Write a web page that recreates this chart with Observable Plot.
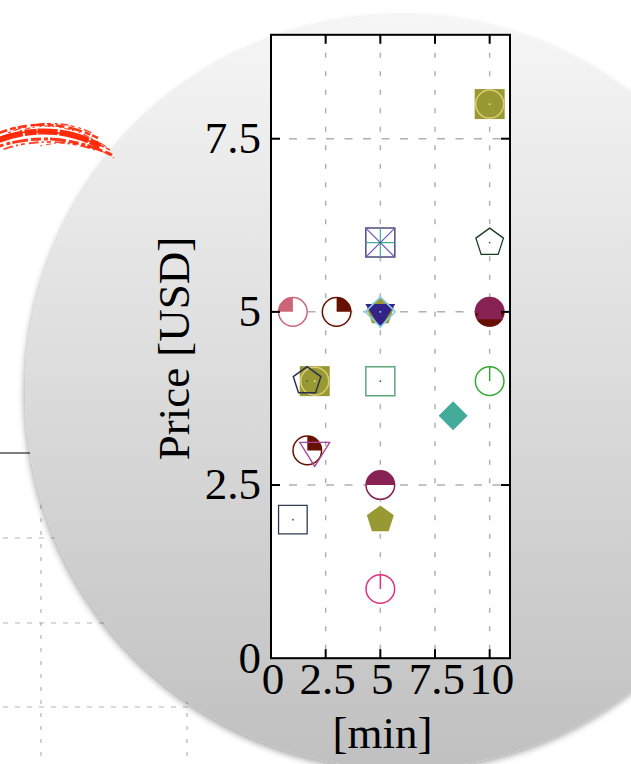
<!DOCTYPE html>
<html>
<head>
<meta charset="utf-8">
<script src="https://cdn.jsdelivr.net/npm/d3@7"></script>
<script src="https://cdn.jsdelivr.net/npm/@observablehq/plot@0.6"></script>
<style>
  html, body { margin: 0; padding: 0; background: #ffffff; }
  #chart { position: relative; width: 631px; height: 764px; overflow: hidden; }
  #chart > svg { position: absolute; left: 0; top: 0; }
</style>
</head>
<body>
<div id="chart"></div>
<script>
// ---- tick values ----
const xTicks = [0, 2.5, 5, 7.5, 10];
const yTicks = [0, 2.5, 5, 7.5];
const xLabel = "[min]";
const yLabel = "Price [USD]";

// ---- marker series (x in minutes, y in USD) ----
const ringSquares    = [{x: 10, y: 8}, {x: 2, y: 4}];     // olive square with a sand ring
const slatePentagons = [{x: 1.65, y: 4}];
const roseQuarters   = [{x: 1, y: 5}];                    // top-left quarter filled
const rustQuarters   = [{x: 3, y: 5}, {x: 1.66, y: 3}];   // top-right quarter filled
const purpleTriangles = [{x: 2, y: 3}];
const olivePentagons = [{x: 5, y: 5}, {x: 5, y: 2}];
const indigoTriangles = [{x: 5, y: 5}];
const cyanDiamonds   = [{x: 5, y: 5}];
const tealDiamonds   = [{x: 8.33, y: 3.5}];
const crossedSquares = [{x: 5, y: 6}];
const pinePentagons  = [{x: 10, y: 6}];
const greenSquares   = [{x: 5, y: 4}];
const slateSquares   = [{x: 1, y: 2}];
const greenStems     = [{x: 10, y: 4}];
const pinkStems      = [{x: 5, y: 1}];
const wineHalves     = [{x: 5, y: 2.5}];
const wineDiscs      = [{x: 10, y: 5}];
const pinDots = [
  {x: 10, y: 8, c: "#eee3a0"}, {x: 2, y: 4, c: "#eee3a0"}, {x: 1.65, y: 4, c: "#117733"},
  {x: 5, y: 4, c: "#117733"}, {x: 1, y: 2, c: "#117733"}, {x: 10, y: 6, c: "#117733"},
  {x: 5, y: 5, c: "#bfe6f5"}, {x: 5, y: 6, c: "#117733"}
];

const W = 631, H = 764;
const serif = "'Liberation Serif', 'Times New Roman', serif";

// ---- backdrop: fragment of a neighbouring chart, shaded disc, brush stroke ----
const bg = d3.select("#chart").append("svg").attr("width", W).attr("height", H);
const defs = bg.append("defs");
const grad = defs.append("linearGradient").attr("id", "disc-fill")
  .attr("x1", 0).attr("y1", 0).attr("x2", 0).attr("y2", 1);
grad.append("stop").attr("offset", 0).attr("stop-color", "#f6f6f6");
grad.append("stop").attr("offset", 1).attr("stop-color", "#c0c0c0");
const shade = defs.append("filter").attr("id", "disc-shadow")
  .attr("x", "-10%").attr("y", "-10%").attr("width", "120%").attr("height", "120%");
shade.append("feDropShadow").attr("dx", -1).attr("dy", 3).attr("stdDeviation", 3)
  .attr("flood-color", "#000").attr("flood-opacity", 0.35);

const back = bg.append("g");
back.append("line").attr("x1", 0).attr("x2", 80).attr("y1", 453).attr("y2", 453)
  .attr("stroke", "#000").attr("stroke-width", 1.2);
[538, 623, 707].forEach(y => back.append("line").attr("x1", 3).attr("x2", 300)
  .attr("y1", y).attr("y2", y).attr("stroke", "#b4b4b4").attr("stroke-width", 1.2)
  .attr("stroke-dasharray", "5,7"));
[41, 187].forEach(x => back.append("line").attr("x1", x).attr("x2", x)
  .attr("y1", 453).attr("y2", H).attr("stroke", "#b4b4b4").attr("stroke-width", 1.2)
  .attr("stroke-dasharray", "4,9"));

bg.append("circle").attr("cx", 402).attr("cy", 392).attr("r", 377)
  .attr("fill", "url(#disc-fill)").attr("filter", "url(#disc-shadow)");

// rough red brush stroke: a solid core plus broken strands
const brush = bg.append("g").attr("fill", "none").attr("stroke", "#ff2200")
  .attr("stroke-linecap", "butt");
[
  {d: "M-6,142 Q50,119 100,146", w: 6, dash: "30,2,12,1,20,2", o: 0.95},
  {d: "M-6,135 Q46,113 98,138", w: 2.5, dash: "14,3,6,2,9,4", o: 0.9},
  {d: "M-6,148 Q52,127 112,155", w: 3, dash: "10,3,4,2,16,3", o: 0.9},
  {d: "M-6,139 Q50,120 110,150", w: 1.6, dash: "5,2,12,3,3,2", o: 0.9},
  {d: "M8,133 Q52,114 92,133", w: 1.3, dash: "3,3,8,2,4,4", o: 0.85},
  {d: "M-4,152 Q44,133 96,150", w: 1.8, dash: "4,4,10,3,2,3", o: 0.85},
  {d: "M20,131 Q60,116 108,148", w: 1.2, dash: "2,3,6,2,2,5", o: 0.8},
  {d: "M40,146 Q80,136 114,158", w: 1.2, dash: "2,4,5,3", o: 0.7}
].forEach(s => brush.append("path").attr("d", s.d).attr("stroke-width", s.w)
  .attr("stroke-dasharray", s.dash).attr("opacity", s.o));

// ---- custom marker shapes (r is the half size in px) ----
const shape = fn => ({draw(c, size) { fn(c, Math.sqrt(size / Math.PI)); }});
const ring = shape((c, r) => { c.moveTo(r, 0); c.arc(0, 0, r, 0, 2 * Math.PI); c.closePath(); });
const box = shape((c, r) => { c.moveTo(-r, -r); c.lineTo(r, -r); c.lineTo(r, r); c.lineTo(-r, r); c.closePath(); });
const quarterTL = shape((c, r) => { c.moveTo(0, 0); c.lineTo(-r, 0); c.arc(0, 0, r, Math.PI, 1.5 * Math.PI); c.closePath(); });
const quarterTR = shape((c, r) => { c.moveTo(0, 0); c.lineTo(0, -r); c.arc(0, 0, r, 1.5 * Math.PI, 2 * Math.PI); c.closePath(); });
const upperHalf = shape((c, r) => { c.moveTo(-r, 0); c.arc(0, 0, r, Math.PI, 2 * Math.PI); c.closePath(); });
const pentagon = shape((c, r) => {
  for (let k = 0; k < 5; ++k) {
    const a = -Math.PI / 2 + k * 2 * Math.PI / 5;
    const px = r * Math.cos(a), py = r * Math.sin(a);
    if (k) c.lineTo(px, py); else c.moveTo(px, py);
  }
  c.closePath();
});
const diamond = shape((c, r) => { c.moveTo(0, -r); c.lineTo(r, 0); c.lineTo(0, r); c.lineTo(-r, 0); c.closePath(); });
const triDown = shape((c, r) => { c.moveTo(-r, -0.53 * r); c.lineTo(r, -0.53 * r); c.lineTo(0, 1.07 * r); c.closePath(); });
const saltire = shape((c, r) => { c.moveTo(-r, -r); c.lineTo(r, r); c.moveTo(r, -r); c.lineTo(-r, r); });
const plusSign = shape((c, r) => { c.moveTo(-r, 0); c.lineTo(r, 0); c.moveTo(0, -r); c.lineTo(0, r); });
const stem = shape((c, r) => { c.moveTo(0, 0); c.lineTo(0, -r); });
const lowerCap = shape((c, r) => {
  const h = 0.5 * r, a = Math.asin(h / r);
  c.moveTo(r * Math.cos(a), h); c.arc(0, 0, r, a, Math.PI - a); c.closePath();
  c.moveTo(-0.97 * r, 0.07 * r); c.lineTo(-0.72 * r, 0.07 * r); c.lineTo(-0.86 * r, 0.4 * r); c.closePath();
  c.moveTo(0.97 * r, 0.07 * r); c.lineTo(0.72 * r, 0.07 * r); c.lineTo(0.86 * r, 0.4 * r); c.closePath();
});
// inward tick marks on the frame
const tickUp = shape((c, r) => { c.moveTo(0, 0); c.lineTo(0, -r); });
const tickDown = shape((c, r) => { c.moveTo(0, 0); c.lineTo(0, r); });
const tickRight = shape((c, r) => { c.moveTo(0, 0); c.lineTo(r, 0); });
const tickLeft = shape((c, r) => { c.moveTo(0, 0); c.lineTo(-r, 0); });

const xMax = 10.93, yMax = 9;
const inner = xTicks.filter(d => d > 0);
const innerY = yTicks.filter(d => d > 0);
const P = (data, symbol, r, o) => Plot.dot(data, {x: "x", y: "y", symbol, r, ...o});

const plot = Plot.plot({
  width: W,
  height: H,
  marginLeft: 270.5,
  marginRight: 121.5,
  marginTop: 34.3,
  marginBottom: 106.3,
  style: {background: "transparent", fontFamily: serif, color: "#000"},
  x: {domain: [0, xMax], label: null},
  y: {domain: [0, yMax], label: null},
  marks: [
    Plot.frame({fill: "white", stroke: null}),
    Plot.gridX(inner, {stroke: "#b0b0b0", strokeOpacity: 1, strokeWidth: 1.5, strokeDasharray: "5,13.5"}),
    Plot.gridY(innerY, {stroke: "#b0b0b0", strokeOpacity: 1, strokeWidth: 1.5, strokeDasharray: "8,10.5"}),

    // olive squares with sand rings, slate pentagon outline on top
    P(ringSquares, box, 15, {fill: "#999933", stroke: null}),
    P(ringSquares, ring, 14, {fill: "none", stroke: "#ddcc77", strokeWidth: 1.5}),
    P(slatePentagons, pentagon, 14.5, {fill: "none", stroke: "#2a2f4f", strokeWidth: 1.5}),

    // quarter-filled circles
    P(roseQuarters, ring, 14.3, {fill: "white", stroke: "#cc6677", strokeWidth: 1.5}),
    P(roseQuarters, quarterTL, 14.3, {fill: "#cc6677", stroke: null}),
    P(rustQuarters, ring, 14.3, {fill: "white", stroke: "#661100", strokeWidth: 1.5}),
    P(rustQuarters, quarterTR, 14.3, {fill: "#661100", stroke: null}),
    P(purpleTriangles, triDown, 15, {fill: "none", stroke: "#aa4499", strokeWidth: 1.3}),

    // stacked markers at 5 min
    P(olivePentagons, pentagon, 14.2, {fill: "#999933", stroke: null}),
    P(indigoTriangles, triDown, 15, {fill: "#332288", stroke: null}),
    P(cyanDiamonds, diamond, 15, {fill: "none", stroke: "#88ccee", strokeWidth: 1.5}),

    P(tealDiamonds, diamond, 14.5, {fill: "#44aa99", stroke: null}),

    // square with diagonals and cross
    P(crossedSquares, box, 14.5, {fill: "white", stroke: "#4c4c7c", strokeWidth: 1.5}),
    P(crossedSquares, saltire, 14.5, {fill: "none", stroke: "#6a55c4", strokeWidth: 1.2}),
    P(crossedSquares, plusSign, 14.5, {fill: "none", stroke: "#44aa99", strokeWidth: 1.2}),

    P(pinePentagons, pentagon, 14.5, {fill: "white", stroke: "#1b3b22", strokeWidth: 1.3}),
    P(greenSquares, box, 14.5, {fill: "white", stroke: "#5ea67c", strokeWidth: 1.5}),
    P(slateSquares, box, 14.3, {fill: "white", stroke: "#2e3c50", strokeWidth: 1.3}),

    // circles with a stem from the centre
    P(greenStems, ring, 14.3, {fill: "white", stroke: "#33aa33", strokeWidth: 1.5}),
    P(greenStems, stem, 14.3, {fill: "none", stroke: "#33aa33", strokeWidth: 1.5}),
    P(pinkStems, ring, 14.3, {fill: "white", stroke: "#e0307f", strokeWidth: 1.5}),
    P(pinkStems, stem, 14.3, {fill: "none", stroke: "#e0307f", strokeWidth: 1.5}),

    // wine circles
    P(wineHalves, ring, 14.3, {fill: "white", stroke: "#882255", strokeWidth: 1.5}),
    P(wineHalves, upperHalf, 14.3, {fill: "#882255", stroke: null}),
    P(wineDiscs, ring, 15, {fill: "#882255", stroke: null}),
    P(wineDiscs, lowerCap, 15, {fill: "#661100", stroke: null}),

    Plot.dot(pinDots, {x: "x", y: "y", r: 0.9, fill: "c", stroke: null}),

    // frame and inward ticks on all four sides
    Plot.frame({stroke: "#000", strokeWidth: 2}),
    Plot.dot(inner, {x: d => d, y: () => 0, symbol: tickUp, r: 9, stroke: "#000", strokeWidth: 2, fill: "none"}),
    Plot.dot(inner, {x: d => d, y: () => yMax, symbol: tickDown, r: 9, stroke: "#000", strokeWidth: 2, fill: "none"}),
    Plot.dot(innerY, {x: () => 0, y: d => d, symbol: tickRight, r: 9, stroke: "#000", strokeWidth: 2, fill: "none"}),
    Plot.dot(innerY, {x: () => xMax, y: d => d, symbol: tickLeft, r: 9, stroke: "#000", strokeWidth: 2, fill: "none"}),

    Plot.axisX(xTicks, {tickSize: 0, tickPadding: 4, fontSize: 45, fontFamily: serif, dx: 2, label: null, tickFormat: d => String(d)}),
    Plot.axisY(yTicks, {tickSize: 0, tickPadding: 10, fontSize: 45, fontFamily: serif, label: null, tickFormat: d => String(d)}),

    Plot.text([yLabel], {text: d => d, frameAnchor: "left", dx: -96, dy: 2, rotate: -90,
      fontSize: 45, fontFamily: serif, textAnchor: "middle", lineAnchor: "middle", fill: "#000"}),
    Plot.text([xLabel], {text: d => d, frameAnchor: "bottom", dx: -8, dy: 75,
      fontSize: 45, fontFamily: serif, textAnchor: "middle", lineAnchor: "middle", fill: "#000"})
  ]
});
document.getElementById("chart").appendChild(plot);
</script>
</body>
</html>
